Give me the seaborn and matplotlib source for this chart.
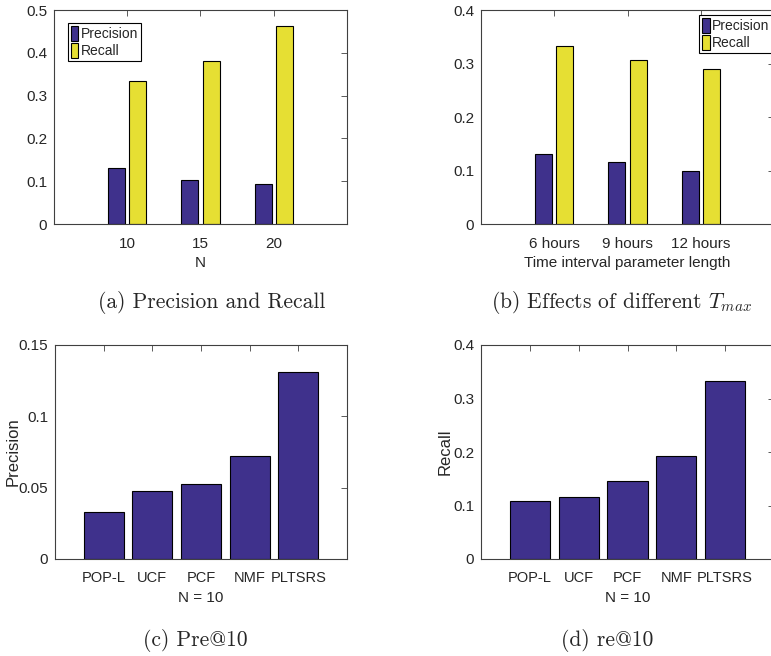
import pandas as pd
import matplotlib.pyplot as plt
import seaborn as sns

sns.set_style("white")
plt.rcParams['font.family'] = ['Liberation Sans', 'DejaVu Sans']
plt.rcParams['mathtext.fontset'] = 'cm'

# ===== DATA =====
n_values = ["10", "15", "20"]
prec_n = [0.131, 0.102, 0.094]
rec_n = [0.333, 0.380, 0.462]

tmax_labels = ["6 hours", "9 hours", "12 hours"]
prec_t = [0.131, 0.115, 0.0985]
rec_t = [0.333, 0.306, 0.289]

methods = ["POP-L", "UCF", "PCF", "NMF", "PLTSRS"]
pre10 = [0.033, 0.0475, 0.0524, 0.0722, 0.1309]
re10 = [0.1075, 0.1156, 0.145, 0.192, 0.333]

PURPLE = "#3F318C"
YELLOW = "#E6DF33"
TICK_FS = 11


def style_axes(ax, xfs=TICK_FS):
    for s in ax.spines.values():
        s.set_visible(True)
        s.set_color("#404040")
        s.set_linewidth(0.8)
    ax.tick_params(direction="in", length=4, width=0.6, color="#404040",
                   top=True, right=True, labelsize=TICK_FS, pad=5)
    ax.tick_params(axis="x", labelsize=xfs, pad=9)


def grouped(ax, cats, prec, rec, xlabel, ylim, yticks, legend_xy):
    df = pd.DataFrame({
        "cat": cats * 2,
        "value": prec + rec,
        "metric": ["Precision"] * len(cats) + ["Recall"] * len(cats),
    })
    sns.barplot(data=df, x="cat", y="value", hue="metric", ax=ax,
                palette=[PURPLE, YELLOW], width=0.58, gap=0.2,
                edgecolor="black", linewidth=0.8, saturation=1)
    ax.set_xlim(-1, len(cats))
    ax.set_ylim(*ylim)
    ax.set_yticks(yticks)
    ax.set_yticklabels([f"{t:g}" for t in yticks])
    ax.set_xlabel(xlabel, fontsize=TICK_FS, labelpad=4)
    ax.set_ylabel("")
    style_axes(ax)
    leg = ax.legend(loc="upper left", bbox_to_anchor=legend_xy, borderaxespad=0,
                    fancybox=False, edgecolor="black", fontsize=10,
                    handlelength=0.55, handleheight=1.3, handletextpad=0.15,
                    borderpad=0.2, labelspacing=0.15, framealpha=1)
    leg.get_frame().set_linewidth(0.8)


def single(ax, values, ylabel, ylim, yticks, label_x):
    sns.barplot(x=methods, y=values, ax=ax, color=PURPLE, width=0.82,
                edgecolor="black", linewidth=0.8, saturation=1)
    ax.set_xlim(-1, len(methods))
    ax.set_ylim(*ylim)
    ax.set_yticks(yticks)
    ax.set_yticklabels([f"{t:g}" for t in yticks])
    ax.set_xlabel("N = 10", fontsize=TICK_FS, labelpad=4)
    ax.set_ylabel(ylabel, fontsize=12)
    ax.yaxis.set_label_coords(label_x, 0.5)
    style_axes(ax, xfs=10.5)


fig = plt.figure(figsize=(7.71, 6.56), dpi=100)
W, H = 771, 656


def add_ax(left, top, width, height):
    return fig.add_axes([left / W, 1 - (top + height) / H, width / W, height / H])


ax_a = add_ax(54, 10, 293, 214)
ax_b = add_ax(481, 10, 293, 214)
ax_c = add_ax(55, 345, 292, 214)
ax_d = add_ax(481, 345, 293, 214)

grouped(ax_a, n_values, prec_n, rec_n, "N", (0, 0.5),
        [0, 0.1, 0.2, 0.3, 0.4, 0.5], (0.048, 0.939))
grouped(ax_b, tmax_labels, prec_t, rec_t, "Time interval parameter length", (0, 0.4),
        [0, 0.1, 0.2, 0.3, 0.4], (0.745, 0.977))
single(ax_c, pre10, "Precision", (0, 0.15), [0, 0.05, 0.1, 0.15], -0.118)
single(ax_d, re10, "Recall", (0, 0.4), [0, 0.1, 0.2, 0.3, 0.4], -0.098)

cap = dict(fontsize=15.5, family="cmr10", ha="center", va="center")
fig.text(212 / W, 1 - 303 / H, "(a) Precision and Recall", **cap)
fig.text(621 / W, 1 - 303 / H, r"(b) Effects of different $T_{max}$", **cap)
fig.text(195 / W, 1 - 640 / H, "(c) Pre@10", **cap)
fig.text(607 / W, 1 - 640 / H, "(d) re@10", **cap)

plt.savefig("out.png", dpi=100)
plt.close()
